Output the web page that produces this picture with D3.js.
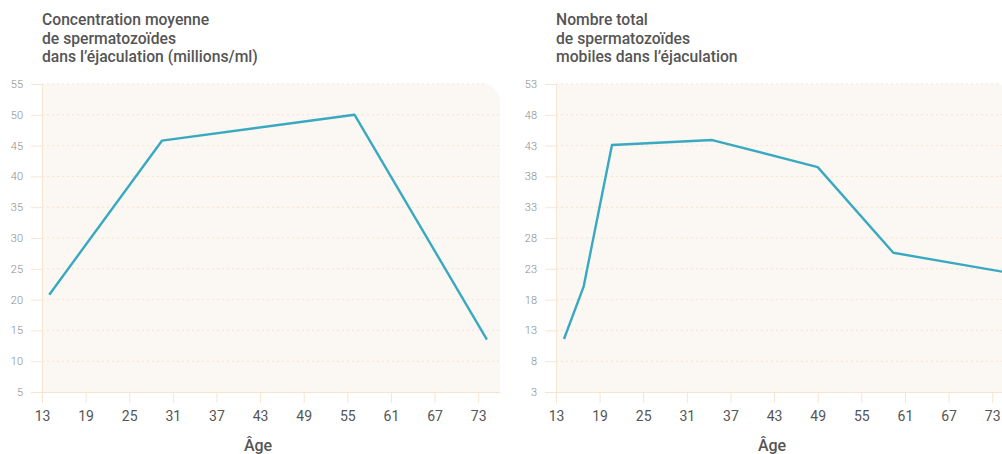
<!DOCTYPE html>
<html>
<head>
<meta charset="utf-8">
<script src="https://cdn.jsdelivr.net/npm/d3@7"></script>
<style>
  body { margin: 0; background: #fff; }
  svg { display: block; font-family: Roboto, "Noto Sans", sans-serif; }
</style>
</head>
<body>
<svg id="vis"></svg>
<script>
const width = 1002;
const height = 454;

// Age ticks shared by both charts
const ageTicks = [13, 19, 25, 31, 37, 43, 49, 55, 61, 67, 73];

// Left chart: mean concentration
const concTitle = ["Concentration moyenne", "de spermatozoïdes", "dans l’éjaculation (millions/ml)"];
const concAges = [14, 29.5, 56, 74.2];
const concValues = [20.8, 45.8, 50, 13.5];
const concTicks = [5, 10, 15, 20, 25, 30, 35, 40, 45, 50, 55];

// Right chart: total motile count
const motTitle = ["Nombre total", "de spermatozoïdes", "mobiles dans l’éjaculation"];
const motAges = [14.1, 16.8, 20.7, 34.5, 49, 59.4, 76];
const motValues = [11.6, 20.1, 43.1, 43.9, 39.5, 25.6, 22.2];
const motTicks = [3, 8, 13, 18, 23, 28, 33, 38, 43, 48, 53];

const layout = {chartWidth: 514, left: 42, top: 84, plotW: 458, plotH: 308, radius: 18};
const colors = {bg: "#fbf7f2", grid: "#f1e4d3", axis: "#f8e5d0", line: "#38a9c0",
    title: "#555", tickX: "#555", tickY: "#8a8a8a"};

let svg = d3.select("#vis")
    .attr("width", width)
    .attr("height", height);

function makeChart(offsetX, title, ages, values, yTicks)
{
    let g = svg.append("g").attr("transform", `translate(${offsetX},0)`);

    let x = d3.scaleLinear()
        .domain([13, 76])
        .range([layout.left, layout.left + layout.plotW]);
    let y = d3.scaleLinear()
        .domain([yTicks[0], yTicks[yTicks.length - 1]])
        .range([layout.top + layout.plotH, layout.top]);

    // plot background, only the top right corner is rounded
    let x0 = layout.left, x1 = layout.left + layout.plotW;
    let y0 = layout.top, y1 = layout.top + layout.plotH;
    let r = layout.radius;
    g.append("path")
        .attr("d", `M${x0},${y0} H${x1 - r} A${r},${r} 0 0 1 ${x1},${y0 + r} V${y1} H${x0} Z`)
        .attr("fill", colors.bg);

    // dotted grid
    g.append("g")
        .selectAll("line")
        .data(yTicks.slice(1))
        .join("line")
        .attr("x1", x0)
        .attr("x2", (d) => d === yTicks[yTicks.length - 1] ? x1 - r + 4 : x1)
        .attr("y1", (d) => y(d))
        .attr("y2", (d) => y(d))
        .attr("stroke", colors.grid)
        .attr("stroke-width", 1)
        .attr("stroke-dasharray", "2,3");

    // y axis
    let yAxis = g.append("g")
        .attr("transform", `translate(${x0},0)`)
        .call(d3.axisLeft(y).tickValues(yTicks).tickSize(11).tickPadding(8));
    yAxis.select(".domain").attr("stroke", colors.axis);
    yAxis.selectAll(".tick line").attr("stroke", colors.axis);
    yAxis.selectAll(".tick text")
        .attr("fill", colors.tickY)
        .style("font-size", "11px")
        .style("font-weight", 300)
        .style("font-family", "Roboto");

    // x axis
    let xAxis = g.append("g")
        .attr("transform", `translate(0,${y1})`)
        .call(d3.axisBottom(x).tickValues(ageTicks).tickSize(11).tickPadding(8).tickSizeOuter(0));
    xAxis.select(".domain").attr("stroke", colors.axis);
    xAxis.selectAll(".tick line").attr("stroke", colors.axis);
    xAxis.selectAll(".tick text")
        .attr("fill", colors.tickX)
        .style("font-size", "14px")
        .style("font-family", "Roboto");

    // data line
    let pts = ages.map((a, i) => [a, values[i]]);
    g.append("path")
        .datum(pts)
        .attr("fill", "none")
        .attr("stroke", colors.line)
        .attr("stroke-width", 2.4)
        .attr("stroke-linejoin", "round")
        .attr("d", d3.line().x((d) => x(d[0])).y((d) => y(d[1])));

    // title
    g.append("text")
        .attr("x", x0)
        .attr("y", 25)
        .attr("fill", colors.title)
        .style("font-size", "15.7px")
        .style("font-weight", 500)
        .selectAll("tspan")
        .data(title)
        .join("tspan")
        .attr("x", x0)
        .attr("dy", (d, i) => i === 0 ? 0 : 18.5)
        .text((d) => d);

    // axis label
    g.append("text")
        .attr("x", 258)
        .attr("y", 451)
        .attr("text-anchor", "middle")
        .attr("fill", colors.title)
        .style("font-size", "16px")
        .style("font-weight", 500)
        .text("Âge");
}

makeChart(0, concTitle, concAges, concValues, concTicks);
makeChart(layout.chartWidth, motTitle, motAges, motValues, motTicks);
</script>
</body>
</html>
